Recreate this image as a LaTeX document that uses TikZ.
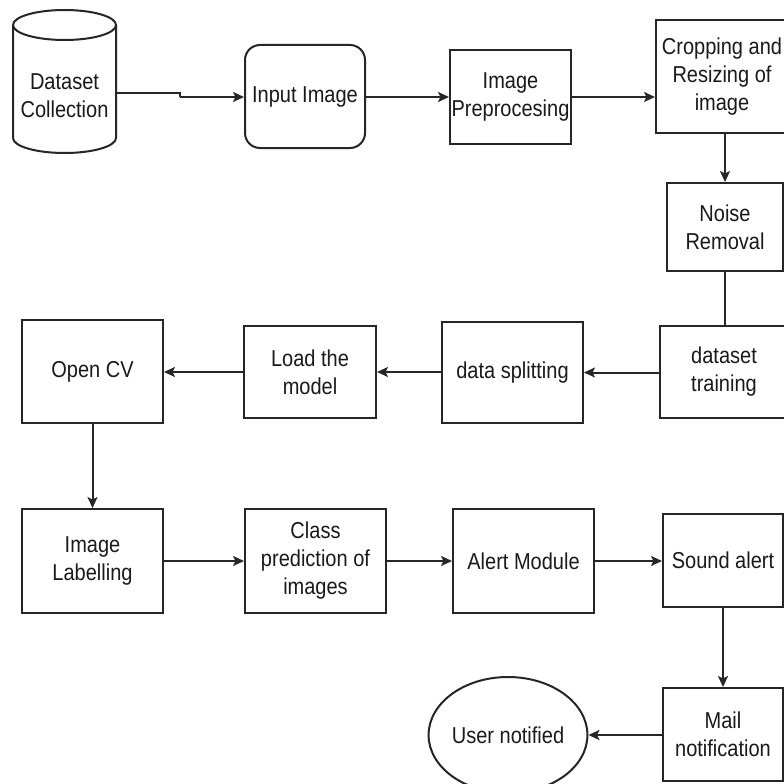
\documentclass[tikz,border=0pt]{standalone}
\usepackage{fontspec}
\setmainfont[FakeStretch=0.87]{Liberation Sans}
\usetikzlibrary{arrows.meta,shapes.geometric}
\definecolor{ln}{HTML}{262626}
\definecolor{tx}{HTML}{1A1A1A}
\begin{document}
\begin{tikzpicture}[x=1pt,y=-1pt,
  lbl/.style={text=tx,align=center,inner sep=0pt,font=\fontsize{23}{28}\selectfont},
  box/.style={lbl,draw=ln,line width=2pt,fill=white},
  conn/.style={draw=ln,line width=2pt,-{Stealth[length=11pt,width=10pt,inset=2.5pt]}},
  plain/.style={draw=ln,line width=2pt}]
\useasboundingbox (0,0) rectangle (784,784);
\fill[white] (0,0) rectangle (784,784);
% cylinder
\draw[ln,line width=2pt,fill=white] (13,25) -- (13,138) arc[start angle=180,end angle=0,x radius=51.5,y radius=15] -- (116,25);
\draw[ln,line width=2pt] (64.5,25) ellipse[x radius=51.5,y radius=15];
\node[draw=none,fill=none,inner sep=0pt,minimum width=103pt,minimum height=143pt] (ds) at (64.5,81.5) {};
\node[lbl] at (64.5,96) {Dataset\\Collection};
% nodes
\node[box,rounded corners=15pt,minimum width=120pt,minimum height=103pt] (inp) at (305,96.5) {Input Image};
\node[box,minimum width=121pt,minimum height=94pt] (pre) at (510.5,97) {Image\\Preprocesing};
\node[box,minimum width=132pt,minimum height=113pt] (crop) at (722,76.5) {Cropping and\\Resizing of\\image};
\node[box,minimum width=116pt,minimum height=88pt] (noise) at (725,227) {Noise\\Removal};
\node[box,minimum width=128pt,minimum height=92pt] (train) at (724,372) {dataset\\training};
\node[box,minimum width=141pt,minimum height=101pt] (split) at (512.5,372.5) {data splitting};
\node[box,minimum width=132pt,minimum height=92pt] (load) at (310,372) {Load the\\model};
\node[box,minimum width=141pt,minimum height=103pt] (cv) at (92.5,371.5) {Open CV};
\node[box,minimum width=141pt,minimum height=104pt] (lab) at (92.5,561) {Image\\Labelling};
\node[box,minimum width=141pt,minimum height=104pt] (cls) at (315.5,561) {Class\\prediction of\\images};
\node[box,minimum width=141pt,minimum height=104pt] (alert) at (523.5,561) {Alert Module};
\node[box,minimum width=120pt,minimum height=93pt] (sound) at (723,560.5) {Sound alert};
\node[box,minimum width=120pt,minimum height=93pt] (mail) at (723,734.5) {Mail\\notification};
\node[box,ellipse,minimum width=150pt,minimum height=116pt] (user) at (508,735) {User notified};
% connectors
\coordinate (j1) at (180,93);
\coordinate (j2) at (180,97);
\draw[plain] (ds.east |- j1) -- (j1) -- (j2);
\draw[conn] (j2) -- (inp.west |- j2);
\draw[conn] (inp.east |- j2) -- (pre.west |- j2);
\draw[conn] (pre.east |- j2) -- (crop.west |- j2);
\draw[conn] (crop.south -| noise.north) -- (noise.north);
\draw[plain] (noise.south) -- (noise.south |- train.north);
\draw[conn] (train.west |- split.east) -- (split.east);
\draw[conn] (split.west |- load.east) -- (load.east);
\draw[conn] (load.west) -- (cv.east |- load.west);
\draw[conn] (cv.south) -- (lab.north);
\draw[conn] (lab.east) -- (cls.west);
\draw[conn] (cls.east) -- (alert.west);
\draw[conn] (alert.east) -- (sound.west |- alert.east);
\draw[conn] (sound.south) -- (mail.north);
\draw[conn] (mail.west |- user.east) -- (user.east);
\end{tikzpicture}
\end{document}
